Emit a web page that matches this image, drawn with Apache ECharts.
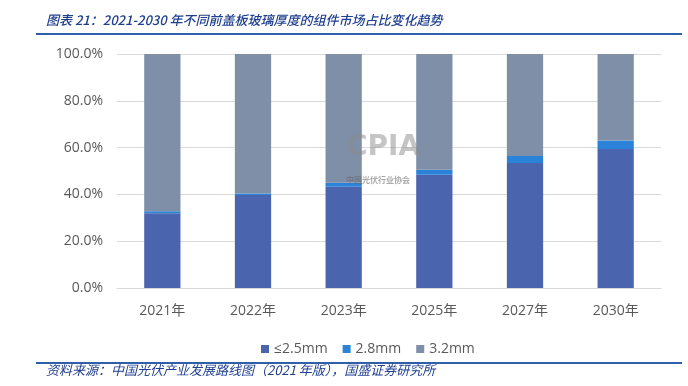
<!DOCTYPE html>
<html><head><meta charset="utf-8">
<script src="https://cdn.jsdelivr.net/npm/echarts@6/dist/echarts.min.js"></script>
<style>html,body{margin:0;padding:0;background:#fff}#c{width:688px;height:386px}</style>
</head><body><div id="c"></div>
<script>
const categories = ['2021年','2022年','2023年','2025年','2027年','2030年'];
const s25 = [31.9, 39.7, 43.3, 48.4, 53.4, 59.4];
const s28 = [0.9, 0.7, 1.7, 2.1, 3.0, 3.6];
const s32 = [67.2, 59.6, 55.0, 49.5, 43.6, 37.0];
const seriesNames = ['≤2.5mm','2.8mm','3.2mm'];
const yTicks = [0, 20, 40, 60, 80, 100];

const chart = echarts.init(document.getElementById('c'));
const font = "'Open Sans', 'Noto Sans CJK SC', sans-serif";
const colors = ['#4A65AE', '#2B82D9', '#7F8FA8'];
const mk = (name, data, i) => ({
  name, type: 'bar', stack: 't', data, barWidth: '40%',
  itemStyle: {color: colors[i]}, emphasis: {disabled: true}
});
chart.setOption({
  animation: false,
  textStyle: {fontFamily: font},
  grid: {left: 117, right: 27, top: 54, bottom: 98},
  xAxis: {
    type: 'category', data: categories,
    axisLine: {lineStyle: {color: '#D9D9D9', width: 1}},
    axisTick: {show: false},
    axisLabel: {color: '#595959', fontSize: 14, margin: 16, fontFamily: font}
  },
  yAxis: {
    type: 'value', min: 0, max: 100, interval: 20,
    axisLine: {show: false}, axisTick: {show: false},
    splitLine: {lineStyle: {color: '#D9D9D9', width: 1}},
    axisLabel: {color: '#595959', fontSize: 14, margin: 14, fontFamily: font,
      formatter: v => yTicks.includes(v) ? v.toFixed(1) + '%' : ''}
  },
  legend: {
    data: seriesNames, left: 256, top: 337, itemWidth: 8, itemHeight: 8, itemGap: 15,
    icon: 'rect', textStyle: {color: '#595959', fontSize: 14, fontFamily: font}
  },
  series: [mk(seriesNames[0], s25, 0), mk(seriesNames[1], s28, 1), mk(seriesNames[2], s32, 2)],
  graphic: [
    {type: 'text', left: 46, top: 14, style: {text: '图表 21：2021-2030 年不同前盖板玻璃厚度的组件市场占比变化趋势',
      fill: '#1F3F8F', font: "italic 500 13px 'Noto Sans CJK SC', sans-serif"}},
    {type: 'rect', shape: {x: 36, y: 33, width: 646, height: 2}, style: {fill: '#2E5FA8'}},
    {type: 'rect', shape: {x: 36, y: 362, width: 646, height: 2}, style: {fill: '#2E5FA8'}},
    {type: 'text', left: 46, top: 364, style: {text: '资料来源：中国光伏产业发展路线图（2021 年版），国盛证券研究所',
      fill: '#1F3F8F', font: "italic 13px 'Noto Sans CJK SC', sans-serif"}},
    {type: 'text', left: 347, top: 134, z: 100, style: {text: 'CPIA', fill: 'rgba(140,140,140,0.5)',
      font: "bold 28px 'DejaVu Sans', sans-serif"}},
    {type: 'text', left: 346, top: 176, z: 100, style: {text: '中国光伏行业协会', fill: 'rgba(100,100,100,0.55)',
      font: "bold 8px 'Noto Sans CJK SC', sans-serif"}}
  ]
});
</script></body></html>
